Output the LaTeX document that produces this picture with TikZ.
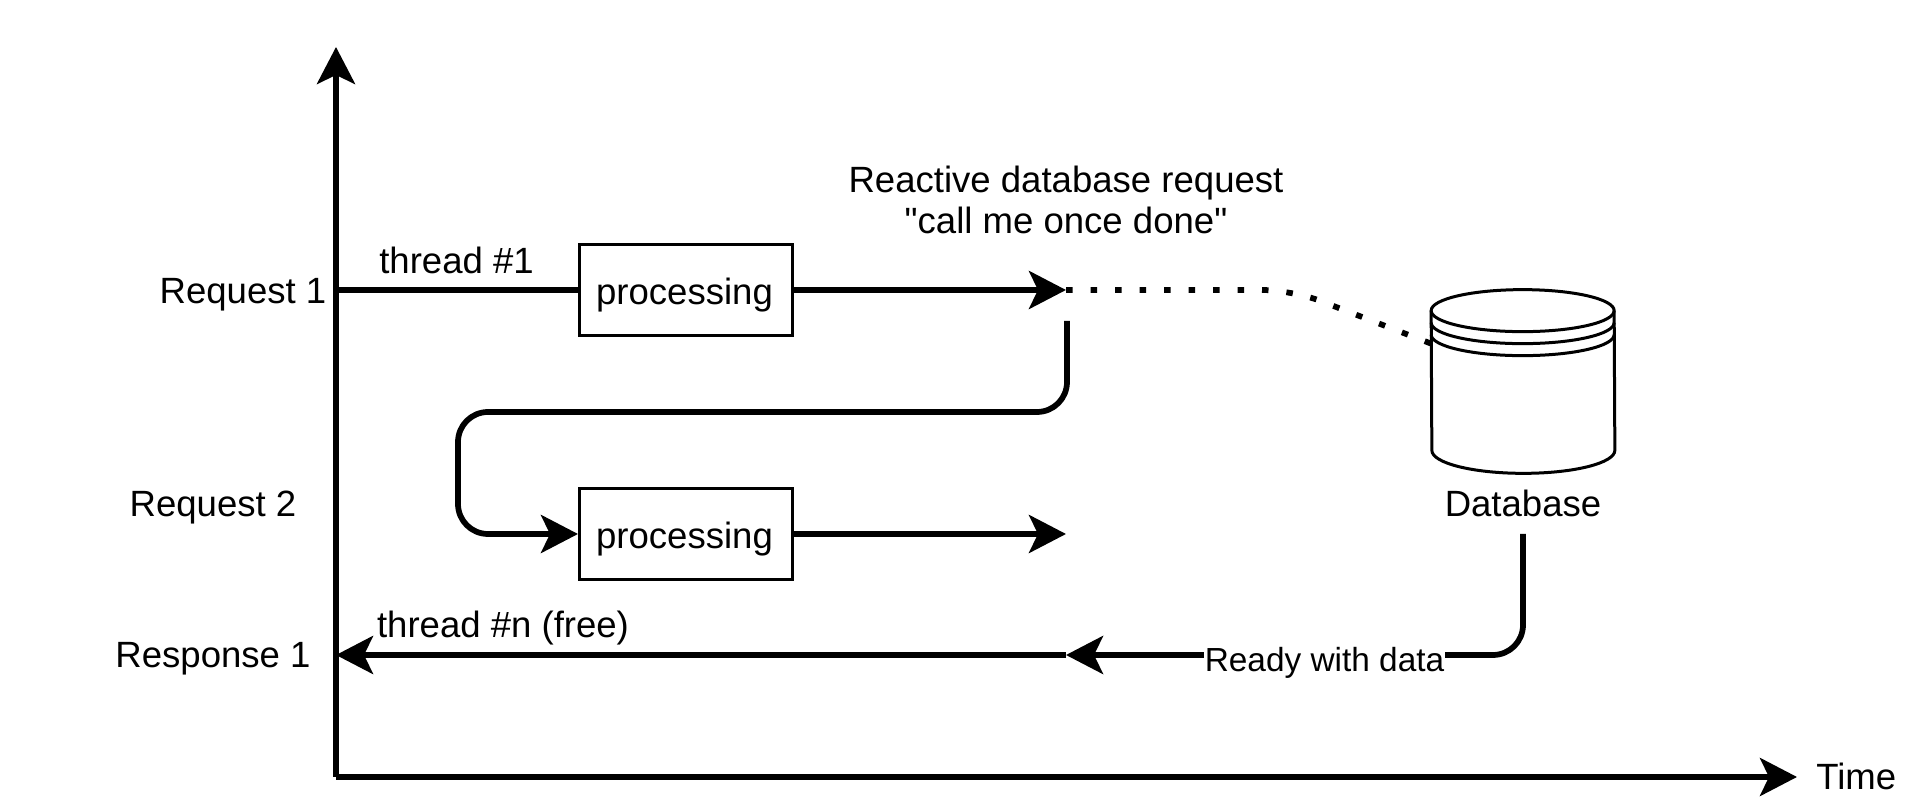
\documentclass[tikz,border=0pt]{standalone}
\usepackage{fontspec}
\setmainfont[Ligatures=TeXOff]{Liberation Sans}
\usetikzlibrary{positioning,arrows.meta}
\tikzset{
	flow/.style={line width=0.115cm,-{Stealth[length=0.74cm,width=0.76cm,inset=0.18cm]}},
	plain/.style={line width=0.115cm},
	box/.style={fill=white,draw=black,line width=0.06cm,minimum width=4.26cm,minimum height=1.82cm,inner sep=0pt},
	txt/.style={font=\fontsize{20.8}{24}\selectfont,inner sep=0pt,align=center},
}
\begin{document}
\begin{tikzpicture}
	\useasboundingbox (-6.72,-0.66) rectangle (31.7,15.54);
	\coordinate (o) at (0,0);
	\coordinate (ytip) at (0,14.6);
	\coordinate (xtip) at (29.22,0);
	\coordinate (s1) at (0,9.74);
	\coordinate (t1) at (14.6,9.74);
	\coordinate (t2) at (14.6,4.86);
	\coordinate (s3) at (0,2.44);
	\coordinate (t3) at (14.6,2.44);
	\coordinate (back) at (14.62,9.12);
	\coordinate (dbout) at (23.74,4.86);
	\node[box] (p1) at (7,9.74) {\phantom{x}};
	\node[box] (p2) at (7,4.86) {\phantom{x}};
	\node[txt,yshift=-0.1cm,xshift=-0.03cm] at (p1) {processing};
	\node[txt,yshift=-0.1cm,xshift=-0.03cm] at (p2) {processing};
	\node[minimum width=3.66cm,minimum height=3.66cm,inner sep=0pt] (db) at (23.74,7.91) {};
	% axes
	\draw[flow] (o) -- (ytip);
	\draw[flow] (o) -- (xtip);
	\node[txt,right=0.38 of xtip,yshift=0.02cm] (time) {Time};
	% first request
	\draw[plain] (s1) -- (p1);
	\draw[flow] (p1) -- (t1);
	\node[txt] (th1) at (2.41,10.33) {thread \#1};
	\node[txt] (r1) at (-1.86,9.64) {Request 1};
	\node[txt] (r2) at (-2.46,5.39) {Request 2};
	\node[txt] (r3) at (-2.46,2.37) {Response 1};
	\node[txt] (react) at (14.6,11.54) {Reactive database request\\[-0.02cm]"call me once done"};
	% second request
	\draw[flow,rounded corners=0.6cm] (back) |- (2.44,7.3) |- (p2);
	\draw[flow] (p2) -- (t2);
	% database
	\draw[line width=0.06cm] ([yshift=-0.42cm]db.north west) arc[start angle=180,end angle=0,x radius=1.83,y radius=0.42]
		-- ([yshift=0.46cm]db.south east) arc[start angle=0,end angle=-180,x radius=1.83,y radius=0.46] -- cycle;
	\foreach \dy in {0.42,0.66,0.9}
		\draw[line width=0.06cm] ([yshift=-\dy cm]db.north west) arc[start angle=180,end angle=360,x radius=1.83,y radius=0.42];
	\node[txt,below=0.32 of db] (dbl) {Database};
	\draw[line width=0.115cm,dash pattern=on 0.13cm off 0.36cm,rounded corners=0.6cm] (t1) -- (19.12,9.74) -- ([yshift=-1.08cm]db.north west);
	% answer
	\draw[flow,rounded corners=0.6cm] (dbout) |- (t3);
	\node[txt,fill=white,font=\fontsize{19}{22}\selectfont,inner xsep=0.5pt] (ready) at (19.77,2.28) {Ready with data};
	\draw[flow] (t3) -- (s3);
	\node[txt] (th2) at (3.34,2.98) {thread \#n (free)};
\end{tikzpicture}
\end{document}
